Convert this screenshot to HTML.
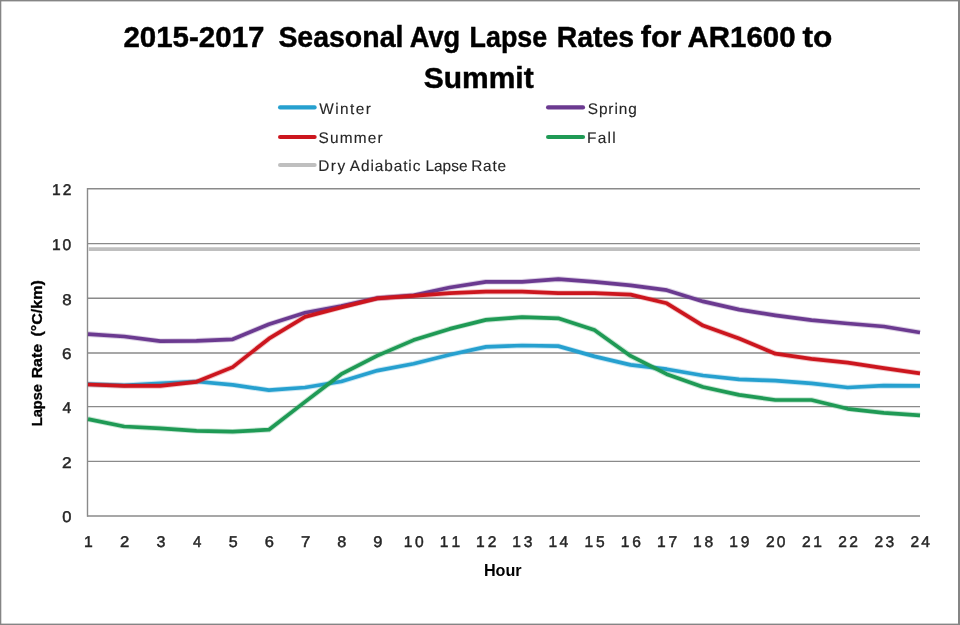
<!DOCTYPE html><html><head><meta charset="utf-8"><style>
html,body{margin:0;padding:0;background:#fff;width:960px;height:625px;overflow:hidden}
svg{display:block;filter:blur(0.45px)}
text{font-family:"Liberation Sans",sans-serif}
</style></head><body>
<svg width="960" height="625" viewBox="0 0 960 625">
<rect x="0" y="0" width="960" height="625" fill="#fff"/>
<rect x="0" y="0" width="960" height="1.4" fill="#858585"/>
<rect x="0" y="0" width="1.3" height="625" fill="#858585"/>
<rect x="958" y="0" width="2" height="625" fill="#858585"/>
<rect x="0" y="623.6" width="960" height="1.4" fill="#858585"/>
<line x1="87.3" y1="461.40" x2="920.0" y2="461.40" stroke="#8a8a8a" stroke-width="1.4"/>
<line x1="87.3" y1="406.60" x2="920.0" y2="406.60" stroke="#8a8a8a" stroke-width="1.4"/>
<line x1="87.3" y1="353.00" x2="920.0" y2="353.00" stroke="#8a8a8a" stroke-width="1.4"/>
<line x1="87.3" y1="298.30" x2="920.0" y2="298.30" stroke="#8a8a8a" stroke-width="1.4"/>
<line x1="87.3" y1="243.60" x2="920.0" y2="243.60" stroke="#8a8a8a" stroke-width="1.4"/>
<line x1="87.3" y1="188.70" x2="920.0" y2="188.70" stroke="#8a8a8a" stroke-width="1.4"/>
<line x1="87.3" y1="516.00" x2="920.0" y2="516.00" stroke="#8a8a8a" stroke-width="1.4"/>
<line x1="87.5" y1="188.00" x2="87.5" y2="516.70" stroke="#8a8a8a" stroke-width="1.4"/>
<line x1="88.7" y1="249.10" x2="920.0" y2="249.10" stroke="#bfbfbf" stroke-width="3.8"/>
<polyline points="88.0,384.2 124.2,385.3 160.3,383.4 196.5,381.5 232.7,384.8 268.9,390.2 305.0,387.5 341.2,381.5 377.4,370.6 413.6,363.8 449.7,354.8 485.9,346.9 522.1,345.5 558.3,346.1 594.4,356.4 630.6,364.9 666.8,369.2 703.0,375.5 739.1,379.3 775.3,380.7 811.5,383.4 847.7,387.5 883.8,385.6 920.0,385.9" fill="none" stroke="#26a0cf" stroke-width="5.6" stroke-opacity="0.25" stroke-linejoin="round" stroke-linecap="butt"/>
<polyline points="88.0,384.2 124.2,385.3 160.3,383.4 196.5,381.5 232.7,384.8 268.9,390.2 305.0,387.5 341.2,381.5 377.4,370.6 413.6,363.8 449.7,354.8 485.9,346.9 522.1,345.5 558.3,346.1 594.4,356.4 630.6,364.9 666.8,369.2 703.0,375.5 739.1,379.3 775.3,380.7 811.5,383.4 847.7,387.5 883.8,385.6 920.0,385.9" fill="none" stroke="#26a0cf" stroke-width="3.7" stroke-linejoin="round" stroke-linecap="butt"/>
<polyline points="88.0,334.1 124.2,336.5 160.3,341.2 196.5,340.9 232.7,339.3 268.9,324.3 305.0,312.8 341.2,306.0 377.4,298.1 413.6,295.4 449.7,287.5 485.9,281.8 522.1,281.8 558.3,279.1 594.4,281.8 630.6,285.3 666.8,290.2 703.0,301.4 739.1,309.6 775.3,315.3 811.5,320.2 847.7,323.5 883.8,326.5 920.0,332.5" fill="none" stroke="#6b3a90" stroke-width="5.6" stroke-opacity="0.25" stroke-linejoin="round" stroke-linecap="butt"/>
<polyline points="88.0,334.1 124.2,336.5 160.3,341.2 196.5,340.9 232.7,339.3 268.9,324.3 305.0,312.8 341.2,306.0 377.4,298.1 413.6,295.4 449.7,287.5 485.9,281.8 522.1,281.8 558.3,279.1 594.4,281.8 630.6,285.3 666.8,290.2 703.0,301.4 739.1,309.6 775.3,315.3 811.5,320.2 847.7,323.5 883.8,326.5 920.0,332.5" fill="none" stroke="#6b3a90" stroke-width="3.7" stroke-linejoin="round" stroke-linecap="butt"/>
<polyline points="88.0,384.5 124.2,385.9 160.3,385.9 196.5,381.8 232.7,367.1 268.9,338.7 305.0,316.9 341.2,307.4 377.4,298.4 413.6,295.9 449.7,293.2 485.9,291.6 522.1,291.6 558.3,293.2 594.4,293.2 630.6,294.6 666.8,303.3 703.0,325.6 739.1,338.5 775.3,353.7 811.5,358.9 847.7,362.7 883.8,368.2 920.0,373.3" fill="none" stroke="#cc161e" stroke-width="5.6" stroke-opacity="0.25" stroke-linejoin="round" stroke-linecap="butt"/>
<polyline points="88.0,384.5 124.2,385.9 160.3,385.9 196.5,381.8 232.7,367.1 268.9,338.7 305.0,316.9 341.2,307.4 377.4,298.4 413.6,295.9 449.7,293.2 485.9,291.6 522.1,291.6 558.3,293.2 594.4,293.2 630.6,294.6 666.8,303.3 703.0,325.6 739.1,338.5 775.3,353.7 811.5,358.9 847.7,362.7 883.8,368.2 920.0,373.3" fill="none" stroke="#cc161e" stroke-width="3.7" stroke-linejoin="round" stroke-linecap="butt"/>
<polyline points="88.0,419.1 124.2,426.5 160.3,428.4 196.5,430.8 232.7,431.7 268.9,429.7 305.0,401.9 341.2,374.2 377.4,355.6 413.6,340.1 449.7,328.9 485.9,319.9 522.1,317.2 558.3,318.3 594.4,330.0 630.6,355.9 666.8,374.2 703.0,387.0 739.1,394.9 775.3,400.0 811.5,400.0 847.7,408.8 883.8,412.8 920.0,415.3" fill="none" stroke="#1f9a55" stroke-width="5.6" stroke-opacity="0.25" stroke-linejoin="round" stroke-linecap="butt"/>
<polyline points="88.0,419.1 124.2,426.5 160.3,428.4 196.5,430.8 232.7,431.7 268.9,429.7 305.0,401.9 341.2,374.2 377.4,355.6 413.6,340.1 449.7,328.9 485.9,319.9 522.1,317.2 558.3,318.3 594.4,330.0 630.6,355.9 666.8,374.2 703.0,387.0 739.1,394.9 775.3,400.0 811.5,400.0 847.7,408.8 883.8,412.8 920.0,415.3" fill="none" stroke="#1f9a55" stroke-width="3.7" stroke-linejoin="round" stroke-linecap="butt"/>
<text x="123.38" y="47.30" font-size="29.5" font-weight="bold" fill="#000" textLength="141.12" lengthAdjust="spacingAndGlyphs" stroke="#000" stroke-width="0.45">2015-2017</text>
<text x="278.38" y="47.30" font-size="29.5" font-weight="bold" fill="#000" textLength="125.04" lengthAdjust="spacingAndGlyphs" stroke="#000" stroke-width="0.45">Seasonal</text>
<text x="409.84" y="47.30" font-size="29.5" font-weight="bold" fill="#000" textLength="50.35" lengthAdjust="spacingAndGlyphs" stroke="#000" stroke-width="0.45">Avg</text>
<text x="469.61" y="47.30" font-size="29.5" font-weight="bold" fill="#000" textLength="77.51" lengthAdjust="spacingAndGlyphs" stroke="#000" stroke-width="0.45">Lapse</text>
<text x="556.70" y="47.30" font-size="29.5" font-weight="bold" fill="#000" textLength="77.37" lengthAdjust="spacingAndGlyphs" stroke="#000" stroke-width="0.45">Rates</text>
<text x="640.78" y="47.30" font-size="29.5" font-weight="bold" fill="#000" textLength="40.48" lengthAdjust="spacingAndGlyphs" stroke="#000" stroke-width="0.45">for</text>
<text x="687.47" y="47.30" font-size="29.5" font-weight="bold" fill="#000" textLength="108.14" lengthAdjust="spacingAndGlyphs" stroke="#000" stroke-width="0.45">AR1600</text>
<text x="802.41" y="47.30" font-size="29.5" font-weight="bold" fill="#000" textLength="29.82" lengthAdjust="spacingAndGlyphs" stroke="#000" stroke-width="0.45">to</text>
<text x="423.84" y="88.00" font-size="29.5" font-weight="bold" fill="#000" textLength="109.83" lengthAdjust="spacingAndGlyphs" stroke="#000" stroke-width="0.45">Summit</text>
<line x1="280.1" y1="107.4" x2="314.6" y2="107.4" stroke="#26a0cf" stroke-width="4.2" stroke-linecap="round"/>
<line x1="280.1" y1="137.0" x2="314.6" y2="137.0" stroke="#cc161e" stroke-width="4.2" stroke-linecap="round"/>
<line x1="280.1" y1="165.0" x2="314.6" y2="165.0" stroke="#bfbfbf" stroke-width="4.2" stroke-linecap="round"/>
<line x1="548.1" y1="107.4" x2="583.0" y2="107.4" stroke="#6b3a90" stroke-width="4.2" stroke-linecap="round"/>
<line x1="548.1" y1="137.0" x2="583.0" y2="137.0" stroke="#1f9a55" stroke-width="4.2" stroke-linecap="round"/>
<g transform="translate(319.22,113.50) scale(1.5400)"><text x="0" y="0" font-size="10" fill="#262626" textLength="33.556" lengthAdjust="spacing" text-rendering="geometricPrecision" stroke="#262626" stroke-width="0.08">Winter</text></g>
<g transform="translate(318.53,142.80) scale(1.5400)"><text x="0" y="0" font-size="10" fill="#262626" textLength="41.592" lengthAdjust="spacing" text-rendering="geometricPrecision" stroke="#262626" stroke-width="0.08">Summer</text></g>
<g transform="translate(318.17,171.00) scale(1.5400)"><text x="0" y="0" font-size="10" fill="#262626" textLength="17.572" lengthAdjust="spacing" text-rendering="geometricPrecision" stroke="#262626" stroke-width="0.08">Dry</text></g>
<g transform="translate(349.87,171.00) scale(1.5400)"><text x="0" y="0" font-size="10" fill="#262626" textLength="45.770" lengthAdjust="spacing" text-rendering="geometricPrecision" stroke="#262626" stroke-width="0.08">Adiabatic</text></g>
<g transform="translate(425.43,171.00) scale(1.5400)"><text x="0" y="0" font-size="10" fill="#262626" textLength="27.306" lengthAdjust="spacing" text-rendering="geometricPrecision" stroke="#262626" stroke-width="0.08">Lapse</text></g>
<g transform="translate(471.15,171.00) scale(1.5400)"><text x="0" y="0" font-size="10" fill="#262626" textLength="22.655" lengthAdjust="spacing" text-rendering="geometricPrecision" stroke="#262626" stroke-width="0.08">Rate</text></g>
<g transform="translate(587.73,113.50) scale(1.5400)"><text x="0" y="0" font-size="10" fill="#262626" textLength="31.860" lengthAdjust="spacing" text-rendering="geometricPrecision" stroke="#262626" stroke-width="0.08">Spring</text></g>
<g transform="translate(587.04,142.80) scale(1.5400)"><text x="0" y="0" font-size="10" fill="#262626" textLength="18.674" lengthAdjust="spacing" text-rendering="geometricPrecision" stroke="#262626" stroke-width="0.08">Fall</text></g>
<g transform="translate(62.25,522.30) scale(1.5600)"><text x="0" y="0" font-size="10" fill="#262626" textLength="5.892" lengthAdjust="spacingAndGlyphs" text-rendering="geometricPrecision" stroke="#262626" stroke-width="0.3">0</text></g>
<g transform="translate(62.03,467.70) scale(1.5600)"><text x="0" y="0" font-size="10" fill="#262626" textLength="6.182" lengthAdjust="spacingAndGlyphs" text-rendering="geometricPrecision" stroke="#262626" stroke-width="0.3">2</text></g>
<g transform="translate(62.54,412.90) scale(1.5600)"><text x="0" y="0" font-size="10" fill="#262626" textLength="5.589" lengthAdjust="spacingAndGlyphs" text-rendering="geometricPrecision" stroke="#262626" stroke-width="0.3">4</text></g>
<g transform="translate(62.03,359.30) scale(1.5600)"><text x="0" y="0" font-size="10" fill="#262626" textLength="6.104" lengthAdjust="spacingAndGlyphs" text-rendering="geometricPrecision" stroke="#262626" stroke-width="0.3">6</text></g>
<g transform="translate(62.17,304.60) scale(1.5600)"><text x="0" y="0" font-size="10" fill="#262626" textLength="6.002" lengthAdjust="spacingAndGlyphs" text-rendering="geometricPrecision" stroke="#262626" stroke-width="0.3">8</text></g>
<g transform="translate(51.98,249.90) scale(1.5600)"><text x="0" y="0" font-size="10" fill="#262626" textLength="12.371" lengthAdjust="spacing" text-rendering="geometricPrecision" stroke="#262626" stroke-width="0.3">10</text></g>
<g transform="translate(51.96,195.00) scale(1.5600)"><text x="0" y="0" font-size="10" fill="#262626" textLength="12.512" lengthAdjust="spacing" text-rendering="geometricPrecision" stroke="#262626" stroke-width="0.3">12</text></g>
<g transform="translate(83.90,547.30) scale(1.5600)"><text x="0" y="0" font-size="10" fill="#262626" textLength="5.623" lengthAdjust="spacingAndGlyphs" text-rendering="geometricPrecision" stroke="#262626" stroke-width="0.3">1</text></g>
<g transform="translate(120.03,547.30) scale(1.5600)"><text x="0" y="0" font-size="10" fill="#262626" textLength="5.947" lengthAdjust="spacingAndGlyphs" text-rendering="geometricPrecision" stroke="#262626" stroke-width="0.3">2</text></g>
<g transform="translate(156.44,547.30) scale(1.5600)"><text x="0" y="0" font-size="10" fill="#262626" textLength="5.715" lengthAdjust="spacingAndGlyphs" text-rendering="geometricPrecision" stroke="#262626" stroke-width="0.3">3</text></g>
<g transform="translate(192.88,547.30) scale(1.5600)"><text x="0" y="0" font-size="10" fill="#262626" textLength="5.377" lengthAdjust="spacingAndGlyphs" text-rendering="geometricPrecision" stroke="#262626" stroke-width="0.3">4</text></g>
<g transform="translate(228.75,547.30) scale(1.5600)"><text x="0" y="0" font-size="10" fill="#262626" textLength="5.715" lengthAdjust="spacingAndGlyphs" text-rendering="geometricPrecision" stroke="#262626" stroke-width="0.3">5</text></g>
<g transform="translate(264.73,547.30) scale(1.5600)"><text x="0" y="0" font-size="10" fill="#262626" textLength="5.872" lengthAdjust="spacingAndGlyphs" text-rendering="geometricPrecision" stroke="#262626" stroke-width="0.3">6</text></g>
<g transform="translate(300.89,547.30) scale(1.5600)"><text x="0" y="0" font-size="10" fill="#262626" textLength="5.960" lengthAdjust="spacingAndGlyphs" text-rendering="geometricPrecision" stroke="#262626" stroke-width="0.3">7</text></g>
<g transform="translate(337.21,547.30) scale(1.5600)"><text x="0" y="0" font-size="10" fill="#262626" textLength="5.774" lengthAdjust="spacingAndGlyphs" text-rendering="geometricPrecision" stroke="#262626" stroke-width="0.3">8</text></g>
<g transform="translate(373.32,547.30) scale(1.5600)"><text x="0" y="0" font-size="10" fill="#262626" textLength="5.866" lengthAdjust="spacingAndGlyphs" text-rendering="geometricPrecision" stroke="#262626" stroke-width="0.3">9</text></g>
<g transform="translate(403.69,547.30) scale(1.5600)"><text x="0" y="0" font-size="10" fill="#262626" textLength="12.872" lengthAdjust="spacing" text-rendering="geometricPrecision" stroke="#262626" stroke-width="0.3">10</text></g>
<g transform="translate(439.85,547.30) scale(1.5600)"><text x="0" y="0" font-size="10" fill="#262626" textLength="12.999" lengthAdjust="spacing" text-rendering="geometricPrecision" stroke="#262626" stroke-width="0.3">11</text></g>
<g transform="translate(476.02,547.30) scale(1.5600)"><text x="0" y="0" font-size="10" fill="#262626" textLength="13.019" lengthAdjust="spacing" text-rendering="geometricPrecision" stroke="#262626" stroke-width="0.3">12</text></g>
<g transform="translate(512.21,547.30) scale(1.5600)"><text x="0" y="0" font-size="10" fill="#262626" textLength="12.935" lengthAdjust="spacing" text-rendering="geometricPrecision" stroke="#262626" stroke-width="0.3">13</text></g>
<g transform="translate(548.40,547.30) scale(1.5600)"><text x="0" y="0" font-size="10" fill="#262626" textLength="12.747" lengthAdjust="spacing" text-rendering="geometricPrecision" stroke="#262626" stroke-width="0.3">14</text></g>
<g transform="translate(584.56,547.30) scale(1.5600)"><text x="0" y="0" font-size="10" fill="#262626" textLength="12.910" lengthAdjust="spacing" text-rendering="geometricPrecision" stroke="#262626" stroke-width="0.3">15</text></g>
<g transform="translate(620.73,547.30) scale(1.5600)"><text x="0" y="0" font-size="10" fill="#262626" textLength="12.935" lengthAdjust="spacing" text-rendering="geometricPrecision" stroke="#262626" stroke-width="0.3">16</text></g>
<g transform="translate(656.89,547.30) scale(1.5600)"><text x="0" y="0" font-size="10" fill="#262626" textLength="13.019" lengthAdjust="spacing" text-rendering="geometricPrecision" stroke="#262626" stroke-width="0.3">17</text></g>
<g transform="translate(693.08,547.30) scale(1.5600)"><text x="0" y="0" font-size="10" fill="#262626" textLength="12.929" lengthAdjust="spacing" text-rendering="geometricPrecision" stroke="#262626" stroke-width="0.3">18</text></g>
<g transform="translate(729.24,547.30) scale(1.5600)"><text x="0" y="0" font-size="10" fill="#262626" textLength="12.980" lengthAdjust="spacing" text-rendering="geometricPrecision" stroke="#262626" stroke-width="0.3">19</text></g>
<g transform="translate(765.92,547.30) scale(1.5600)"><text x="0" y="0" font-size="10" fill="#262626" textLength="12.546" lengthAdjust="spacing" text-rendering="geometricPrecision" stroke="#262626" stroke-width="0.3">20</text></g>
<g transform="translate(802.08,547.30) scale(1.5600)"><text x="0" y="0" font-size="10" fill="#262626" textLength="12.667" lengthAdjust="spacing" text-rendering="geometricPrecision" stroke="#262626" stroke-width="0.3">21</text></g>
<g transform="translate(838.26,547.30) scale(1.5600)"><text x="0" y="0" font-size="10" fill="#262626" textLength="12.686" lengthAdjust="spacing" text-rendering="geometricPrecision" stroke="#262626" stroke-width="0.3">22</text></g>
<g transform="translate(874.44,547.30) scale(1.5600)"><text x="0" y="0" font-size="10" fill="#262626" textLength="12.607" lengthAdjust="spacing" text-rendering="geometricPrecision" stroke="#262626" stroke-width="0.3">23</text></g>
<g transform="translate(910.62,547.30) scale(1.5600)"><text x="0" y="0" font-size="10" fill="#262626" textLength="12.428" lengthAdjust="spacing" text-rendering="geometricPrecision" stroke="#262626" stroke-width="0.3">24</text></g>
<text x="483.92" y="575.70" font-size="16.0" font-weight="bold" fill="#000" textLength="37.73" lengthAdjust="spacingAndGlyphs">Hour</text>
<text transform="translate(42.30,0) rotate(-90)" x="-426.28" y="0" font-size="15.0" font-weight="bold" fill="#000" stroke="#000" stroke-width="0.3" textLength="42.28" lengthAdjust="spacingAndGlyphs">Lapse</text>
<text transform="translate(42.30,0) rotate(-90)" x="-378.36" y="0" font-size="15.0" font-weight="bold" fill="#000" stroke="#000" stroke-width="0.3" textLength="34.40" lengthAdjust="spacingAndGlyphs">Rate</text>
<text transform="translate(42.30,0) rotate(-90)" x="-336.60" y="0" font-size="15.0" font-weight="bold" fill="#000" stroke="#000" stroke-width="0.3" textLength="56.40" lengthAdjust="spacingAndGlyphs">(°C/km)</text>
</svg></body></html>
